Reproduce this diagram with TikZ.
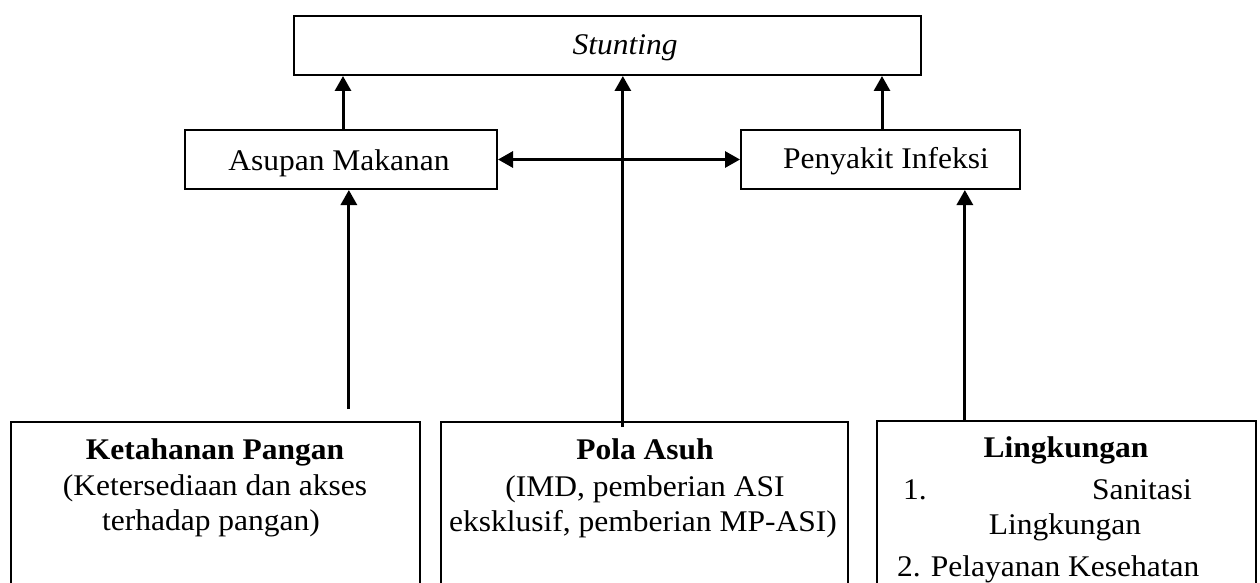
\documentclass[tikz,border=0pt]{standalone}
\usepackage{fontspec}
\setmainfont[FakeStretch=1.05]{Liberation Serif}
\usetikzlibrary{arrows.meta}
\begin{document}
\begin{tikzpicture}[x=1pt,y=-1pt,
  box/.style={draw,line width=2pt,inner sep=0pt,anchor=north west},
  lowbox/.style={draw,line width=1.7pt,inner sep=0pt,anchor=north west},
  txt/.style={anchor=base,inner sep=0pt,font=\fontsize{30}{36}\selectfont},
  arr/.style={line width=3pt,-{Triangle[width=16pt,length=15pt]}},
  darr/.style={line width=3pt,{Triangle[width=16pt,length=15pt]}-{Triangle[width=16pt,length=15pt]}}]
\useasboundingbox (0,0) rectangle (1260,583);
\clip (0,0) rectangle (1260,583);
% boxes
\node[box,minimum width=627pt,minimum height=59pt] (stunting) at (293,15) {};
\node[box,minimum width=312pt,minimum height=59pt] (asupan) at (184,129) {};
\node[box,minimum width=279pt,minimum height=59pt] (penyakit) at (740,129) {};
\node[lowbox,minimum width=409pt,minimum height=190pt] (ketahanan) at (10,421) {};
\node[lowbox,minimum width=407pt,minimum height=190pt] (pola) at (440,421) {};
\node[lowbox,minimum width=379pt,minimum height=190pt] (lingk) at (876,420) {};
% texts
\node[txt] (tstunting) at (625,55) {\itshape Stunting};
\node[txt] (tasupan) at (339,170) {Asupan Makanan};
\node[txt] (tpenyakit) at (886,168) {Penyakit Infeksi};
\node[txt] (tk1) at (215,459) {\bfseries Ketahanan Pangan};
\node[txt] (tk2) at (215,495) {(Ketersediaan dan akses};
\node[txt] (tk3) at (211,530) {terhadap pangan)};
\node[txt] (tp1) at (645,459) {\bfseries Pola Asuh};
\node[txt] (tp2) at (645,496) {(IMD, pemberian ASI};
\node[txt] (tp3) at (643,531) {eksklusif, pemberian MP-ASI)};
\node[txt] (tl1) at (1066,457) {\bfseries Lingkungan};
\node[txt,anchor=base west] (tl2a) at (903,499) {1.};
\node[txt,anchor=base east] (tl2b) at (1192,499) {Sanitasi};
\node[txt] (tl3) at (1065,534) {Lingkungan};
\node[txt,anchor=base west] (tl4) at (897,576) {2.\hspace{10pt}Pelayanan Kesehatan};
% connectors
\draw[arr] ([xshift=2pt]asupan.north) -- ([xshift=2pt]asupan.north |- stunting.south);
\draw[arr] ([xshift=1.5pt]penyakit.north) -- ([xshift=1.5pt]penyakit.north |- stunting.south);
\draw[arr] ([xshift=-21.5pt,yshift=-6pt]pola.north) -- ([xshift=-21.5pt]pola.north |- stunting.south);
\draw[arr] ([xshift=133.5pt,yshift=12pt]ketahanan.north) -- ([xshift=133.5pt]ketahanan.north |- asupan.south);
\draw[arr] ([xshift=-101.5pt]lingk.north) -- ([xshift=-101.5pt]lingk.north |- penyakit.south);
\draw[darr] (asupan.east) -- (penyakit.west);
\end{tikzpicture}
\end{document}
